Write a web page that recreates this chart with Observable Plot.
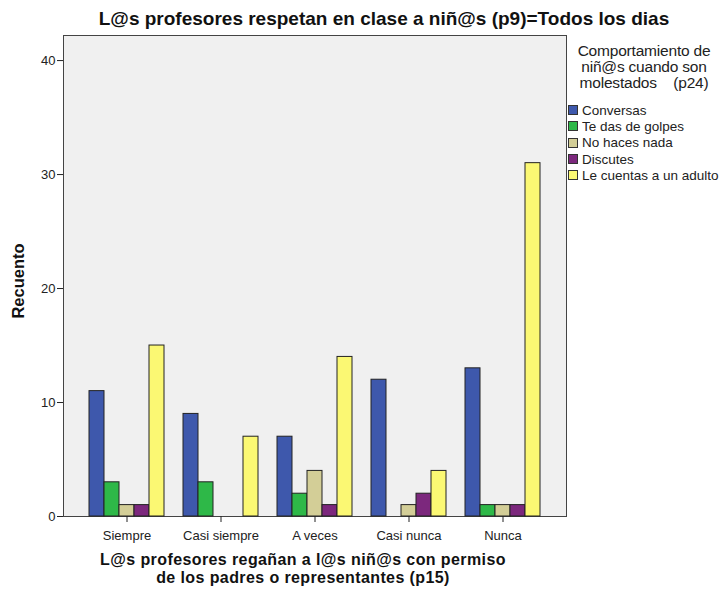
<!DOCTYPE html>
<html><head><meta charset="utf-8">
<script src="https://cdn.jsdelivr.net/npm/d3@7"></script>
<script src="https://cdn.jsdelivr.net/npm/@observablehq/plot@0.6"></script>
<style>
body{margin:0;background:#fff;font-family:"Liberation Sans",Arial,sans-serif;}
#wrap{position:relative;width:720px;height:590px;overflow:hidden;}
#title{position:absolute;left:0;top:8px;width:768px;text-align:center;font-weight:bold;font-size:19px;color:#111;white-space:nowrap;}
#bg{position:absolute;left:63px;top:35px;width:502px;height:480px;background:#f0f0f0;border:1px solid #444;}
#chart{position:absolute;left:0;top:35px;}
#ylab{position:absolute;left:18px;top:281px;transform:translate(-50%,-50%) rotate(-90deg);font-weight:bold;font-size:16.5px;color:#111;white-space:nowrap;}
#xlab{position:absolute;left:0;top:551px;width:606px;text-align:center;font-weight:bold;font-size:16px;letter-spacing:0.4px;line-height:18px;color:#111;}
#legend{position:absolute;left:568px;top:43px;width:152px;font-size:13.5px;color:#222;}
#legend .lt{text-align:center;font-size:15.5px;line-height:16px;white-space:pre;margin-bottom:11px;letter-spacing:-0.2px;}
#legend .it{display:flex;align-items:center;height:16.3px;white-space:nowrap;}
#legend .sw{width:10px;height:10px;border:1px solid #333;margin-right:4px;box-sizing:border-box;flex:none;}
</style></head>
<body>
<div id="wrap">
  <div id="bg"></div>
  <div id="title"></div>
  <div id="chart"></div>
  <div id="ylab"></div>
  <div id="xlab"></div>
  <div id="legend"></div>
</div>
<script>
const titleText = "L@s profesores respetan en clase a niñ@s (p9)=Todos los dias";
const xTitle = ["L@s profesores regañan a l@s niñ@s con permiso", "de los padres o representantes (p15)"];
const yTitle = "Recuento";
const legendTitle = "Comportamiento de\nniñ@s cuando son\nmolestados    (p24)";
const categories = ["Siempre", "Casi siempre", "A veces", "Casi nunca", "Nunca"];
const series = ["Conversas", "Te das de golpes", "No haces nada", "Discutes", "Le cuentas a un adulto"];
const colors = ["#3e58ac", "#2eb848", "#d3ce97", "#7c287d", "#fbf873"];
const conversas = [11, 9, 7, 12, 13];
const golpes = [3, 3, 2, 0, 1];
const nada = [1, 0, 4, 1, 1];
const discutes = [1, 0, 1, 2, 1];
const adulto = [15, 7, 14, 4, 31];
const yTicks = [0, 10, 20, 30, 40];

const valuesBySeries = [conversas, golpes, nada, discutes, adulto];
const data = [];
categories.forEach((c, i) => series.forEach((s, j) => {
  data.push({cat: c, ser: s, val: valuesBySeries[j][i]});
}));

document.getElementById("title").textContent = titleText;
document.getElementById("ylab").textContent = yTitle;
document.getElementById("xlab").innerHTML = xTitle.join("<br>");
const lg = document.getElementById("legend");
const lt = document.createElement("div"); lt.className = "lt"; lt.textContent = legendTitle; lg.appendChild(lt);
series.forEach((s, j) => {
  const it = document.createElement("div"); it.className = "it";
  const sw = document.createElement("div"); sw.className = "sw"; sw.style.background = colors[j];
  const t = document.createElement("span"); t.textContent = s;
  it.appendChild(sw); it.appendChild(t); lg.appendChild(it);
});

const marginLeft = 63;
function makeChart(yAxisDx) {
  return Plot.plot({
    width: 720,
    height: 555,
    marginLeft,
    marginRight: 154,
    marginTop: 0,
    marginBottom: 74,
    style: {background: "transparent", fontFamily: "Liberation Sans, Arial, sans-serif", fontSize: "13px", color: "#222"},
    fx: {domain: categories, paddingInner: 0.164, paddingOuter: 0.25, label: null},
    x: {domain: series, paddingInner: 0, paddingOuter: 0, axis: null},
    y: {domain: [0, 42.2], label: null},
    color: {domain: series, range: colors},
    marks: [
      Plot.barY(data.filter(d => d.val > 0), {fx: "cat", x: "ser", y: "val", fill: "ser", stroke: "#222", strokeWidth: 1, inset: 0}),
      Plot.axisY({ticks: yTicks, tickSize: 6, tickPadding: 2, label: null, fontSize: 13, dx: yAxisDx}),
      Plot.axisFx({anchor: "bottom", tickSize: 6, tickPadding: 8, label: null, fontSize: 13})
    ]
  });
}
// first pass: find where the first facet starts, so the y axis sits on the frame's left edge
const probe = makeChart(0);
const offset = probe.scale("fx").apply(categories[0]) - marginLeft;
const chart = makeChart(-offset);
document.getElementById("chart").appendChild(chart);
</script>
</body></html>
